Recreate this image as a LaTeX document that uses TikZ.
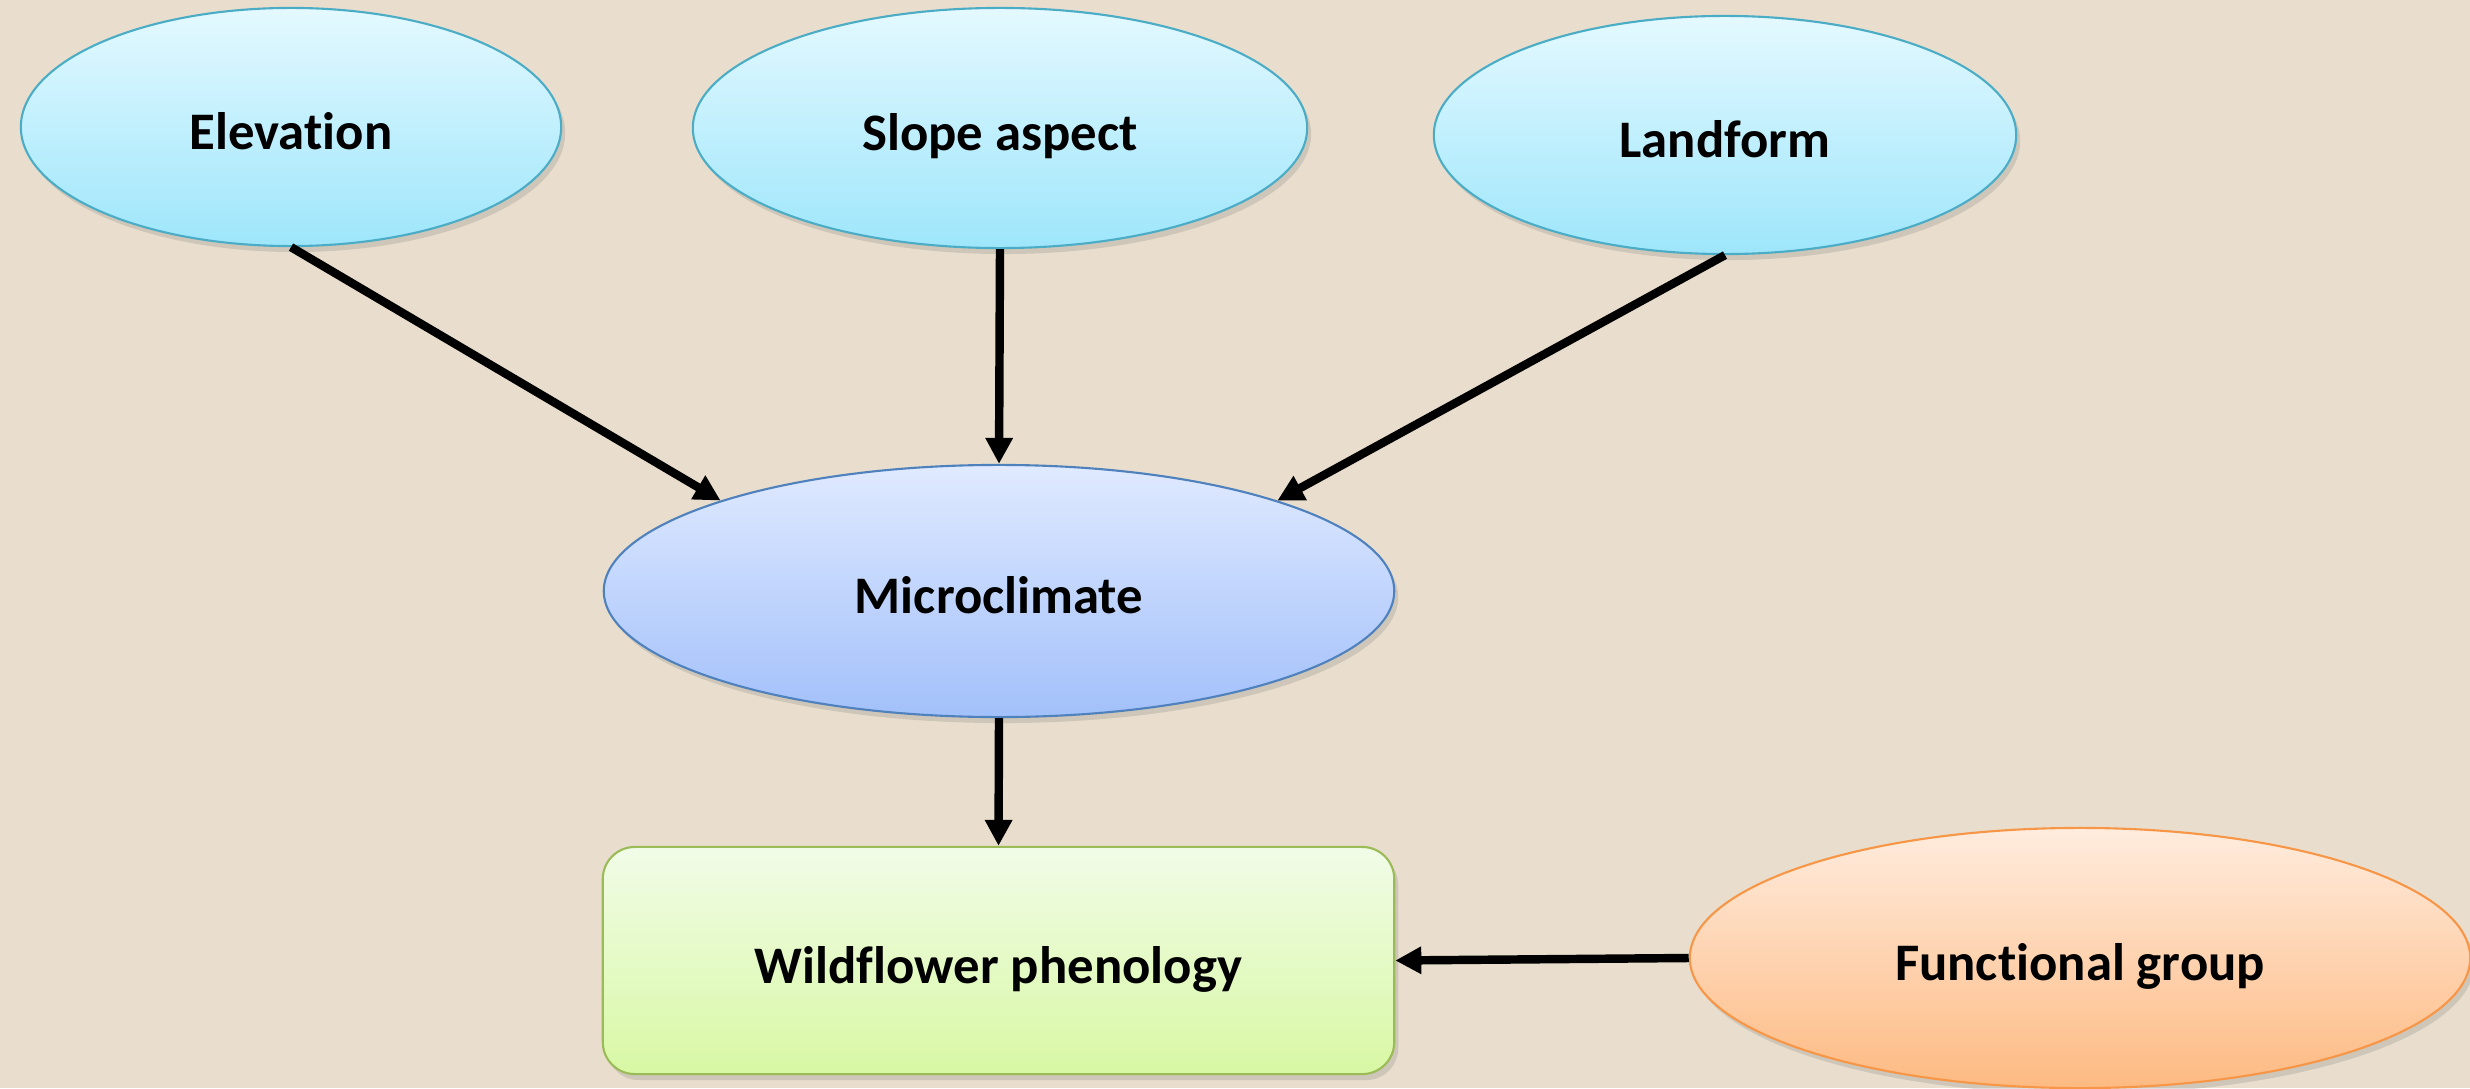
\documentclass[tikz,border=0pt]{standalone}
\usepackage{fontspec}
\setmainfont[Ligatures=NoCommon]{Carlito}
\usetikzlibrary{arrows.meta,shapes.geometric,shadows}
\definecolor{bgc}{HTML}{E9DECD}
\definecolor{cyTop}{HTML}{E4F9FF}
\definecolor{cyBot}{HTML}{9EE6FB}
\definecolor{cyLine}{HTML}{4BACC6}
\definecolor{blTop}{HTML}{E0EAFF}
\definecolor{blBot}{HTML}{A2C0FA}
\definecolor{blLine}{HTML}{4F81BD}
\definecolor{grTop}{HTML}{F1FCE8}
\definecolor{grBot}{HTML}{D8F8A4}
\definecolor{grLine}{HTML}{9BBB59}
\definecolor{orTop}{HTML}{FFECDE}
\definecolor{orBot}{HTML}{FDBA82}
\definecolor{orLine}{HTML}{F79646}
\tikzset{
  lbl/.style={font=\fontsize{15}{18}\selectfont\bfseries, text=black, inner sep=0pt, text height=0.45cm, text depth=0cm},
  shad/.style={drop shadow={opacity=0.25, shadow xshift=0.04cm, shadow yshift=-0.06cm}},
  cyell/.style={lbl, ellipse, draw=cyLine, line width=0.6pt, top color=cyTop, bottom color=cyBot, shad},
  blell/.style={lbl, ellipse, draw=blLine, line width=0.6pt, top color=blTop, bottom color=blBot, shad},
  orell/.style={lbl, ellipse, draw=orLine, line width=0.6pt, top color=orTop, bottom color=orBot, shad},
  grbox/.style={lbl, rectangle, rounded corners=0.32cm, draw=grLine, line width=0.6pt, top color=grTop, bottom color=grBot, shad},
  conn/.style={line width=2.4pt, draw=black, -{Triangle[length=0.26cm,width=0.26cm]}}
}
\begin{document}
\begin{tikzpicture}[x=0.01cm, y=-0.01cm]
\fill[bgc] (0,0) rectangle (2470,1088);
\useasboundingbox (0,0) rectangle (2470,1088);
\node[cyell, minimum width=5.40cm, minimum height=2.38cm] (elev) at (291,127) {Elevation};
\node[cyell, minimum width=6.14cm, minimum height=2.40cm] (slope) at (1000,128) {Slope aspect};
\node[cyell, minimum width=5.82cm, minimum height=2.38cm] (land) at (1725,135) {Landform};
\node[blell, minimum width=7.90cm, minimum height=2.52cm] (micro) at (999,591) {Microclimate};
\node[grbox, minimum width=7.91cm, minimum height=2.27cm] (wild) at (998.5,960.5) {Wildflower phenology};
\node[orell, minimum width=7.80cm, minimum height=2.60cm] (func) at (2080,958) {Functional group};
\draw[conn] (elev.south) -- (micro.162);
\draw[conn] (slope.south) -- (micro.north);
\draw[conn] (land.south) -- (micro.18);
\draw[conn] (micro.south) -- (wild.north);
\draw[conn] (func.west) -- (wild.east);
\end{tikzpicture}
\end{document}
